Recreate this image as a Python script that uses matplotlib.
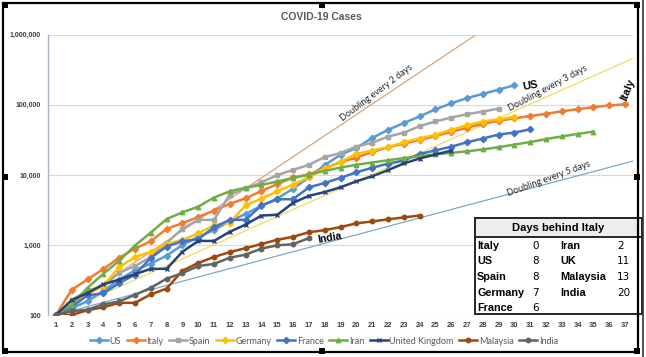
import numpy as np
import matplotlib
matplotlib.use('Agg')
import matplotlib.pyplot as plt
from matplotlib.patches import Rectangle

# cases per day since ~100 cases (day 1 = 100)
us = [100, 124, 158, 221, 319, 435, 541, 704, 994, 1301, 1630, 2183, 2770, 3613, 4596,
      6344, 9197, 13779, 19367, 24192, 33592, 43781, 54856, 68211, 85991, 104686,
      124665, 143025, 164620, 189618]
italy = [100, 229, 322, 453, 655, 888, 1128, 1694, 2036, 2502, 3089, 3858, 4636, 5883,
         7375, 9172, 10149, 12462, 15113, 17660, 21157, 24747, 27980, 31506, 35713,
         41035, 47021, 53578, 59138, 63927, 69176, 74386, 80589, 86498, 92472, 97689,
         101739]
spain = [100, 165, 222, 259, 400, 500, 673, 1073, 1695, 2277, 2277, 5232, 6391, 7798,
         9942, 11748, 13910, 17963, 20410, 25374, 28603, 35136, 39885, 49515, 57786,
         65719, 73235, 80110, 87956]
germany = [100, 159, 196, 262, 482, 670, 799, 1040, 1176, 1457, 1908, 2078, 3675, 4585,
           5795, 7272, 9257, 12327, 15320, 19848, 22213, 24873, 29056, 32986, 37323,
           43938, 50871, 57695, 62095, 66885]
france = [100, 130, 191, 204, 285, 377, 653, 949, 1126, 1209, 1784, 2281, 2281, 3661,
          4469, 4499, 6633, 7652, 9043, 10871, 12612, 14459, 16018, 19856, 22304, 25233,
          29155, 32964, 37575, 40174, 44550]
iran = [100, 139, 245, 388, 593, 978, 1501, 2336, 2922, 3513, 4747, 5823, 6566, 7161,
        8042, 9000, 10075, 11364, 12729, 13938, 14991, 16169, 17361, 18407, 19644,
        20610, 21638, 23049, 24811, 27017, 29406, 32332, 35408, 38309, 41495]
uk = [100, 163, 206, 273, 321, 382, 456, 456, 798, 1140, 1140, 1543, 1950, 2626, 2689,
      3983, 5018, 5683, 6650, 8077, 9529, 11658, 14543, 17089, 19522, 22141]
malaysia = [100, 100, 117, 129, 149, 149, 197, 238, 428, 553, 673, 790, 900, 1030, 1183,
            1306, 1518, 1624, 1796, 2031, 2161, 2320, 2470, 2626]
india = [100, 113, 119, 142, 156, 194, 244, 330, 396, 499, 536, 657, 727, 887, 987,
         1024, 1251]

series_names = ['US', 'Italy', 'Spain', 'Germany', 'France', 'Iran',
                'United Kingdom', 'Malaysia', 'India']
doubling_days = [2, 3, 5]

# days behind Italy table
table_left_names = ['Italy', 'US', 'Spain', 'Germany', 'France']
table_left_vals = [0, 8, 8, 7, 6]
table_right_names = ['Iran', 'UK', 'Malaysia', 'India']
table_right_vals = [2, 11, 13, 20]

W, H = 646, 357
BOLD_FONT = 'Liberation Sans'
fig = plt.figure(figsize=(W / 100, H / 100), dpi=100)
ax = fig.add_axes([48 / W, 1 - 315 / H, (633 - 48) / W, (315 - 34.7) / H])

styles = [('#5B9BD5', 'D'), ('#ED7D31', 'D'), ('#A5A5A5', 's'), ('#FFC000', 'D'),
          ('#4472C4', 'D'), ('#70AD47', '^'), ('#264478', 'x'), ('#9E480E', 'o'),
          ('#636363', 'o')]
all_series = [us, italy, spain, germany, france, iran, uk, malaysia, india]

# doubling reference lines
xd = np.linspace(1, 38, 200)
dbl_colors = ['#D9A27A', '#F2DC5D', '#7FA8C8']
for n, c in zip(doubling_days, dbl_colors):
    ax.plot(xd, 100 * 2 ** ((xd - 1) / n), color=c, lw=0.9, zorder=1)

for data, name, (c, m) in zip(all_series, series_names, styles):
    d = np.arange(1, len(data) + 1)
    ax.plot(d, data, color=c, lw=1.8, marker=m, ms=3.2, mew=1.0, label=name, zorder=3)

ax.set_yscale('log')
ax.set_ylim(100, 1e6)
ax.set_xlim(0.5, 37.5)
ax.set_xticks(range(1, 38))
ax.set_yticks([100, 1000, 10000, 100000, 1000000])
ax.set_yticklabels(['100', '1,000', '10,000', '100,000', '1,000,000'])
ax.minorticks_off()
ax.tick_params(length=0, labelsize=5, colors='#404040', pad=5)
ax.tick_params(axis='x', labelsize=5.5)
for lab in ax.get_xticklabels() + ax.get_yticklabels():
    lab.set_fontweight('bold')
    lab.set_family(BOLD_FONT)
ax.grid(axis='y', color='#D9D9D9', lw=0.8)
ax.set_axisbelow(True)
for s in ['top', 'right', 'bottom']:
    ax.spines[s].set_visible(False)
ax.spines['left'].set_color('#A6B4C8')
ax.spines['left'].set_linewidth(1.0)

# line labels
tk = dict(fontsize=6.5, color='#262626', family='Lato', rotation_mode='anchor',
          ha='center', va='center')
ax.text(21.3, 148000, 'Doubling every 2 days', rotation=37, **tk)
ax.text(32.1, 173000, 'Doubling every 3 days', rotation=28, **tk)
ax.text(32.2, 8700, 'Doubling every 5 days', rotation=20, **tk)
ax.text(30.5, 190000, 'US', fontsize=8, fontweight='bold', rotation=10,
        ha='left', va='center', family=BOLD_FONT)
ax.text(37.2, 162000, 'Italy', fontsize=8, fontweight='bold', rotation=68,
        ha='center', va='center', rotation_mode='anchor', family=BOLD_FONT)
ax.text(17.5, 1250, 'India', fontsize=7.5, fontweight='bold', rotation=10,
        ha='left', va='center', family=BOLD_FONT)

fig.text(321 / W, 1 - 17 / H, 'COVID-19 Cases', fontsize=7.5, fontweight='bold',
         color='#595959', ha='center', va='center', family=BOLD_FONT)

fig.legend(loc='center', bbox_to_anchor=(324 / W, 1 - 341 / H), ncol=9, frameon=False,
           prop={'family': 'Lato', 'size': 6.5}, labelcolor='#595959',
           handlelength=2.0, handletextpad=0.2, columnspacing=0.6, borderpad=0)

# table
def fx(x):
    return x / W

def fy(y):
    return 1 - y / H

fig.patches.append(Rectangle((fx(475), fy(314)), fx(642) - fx(475), fy(218) - fy(314),
                             transform=fig.transFigure, facecolor='white',
                             edgecolor='#262626', lw=1.4, zorder=10))
fig.patches.append(Rectangle((fx(475), fy(237)), fx(642) - fx(475), fy(218) - fy(237),
                             transform=fig.transFigure, facecolor='#EDEDED',
                             edgecolor='#262626', lw=1.4, zorder=11))
fig.text(fx(558), fy(228), 'Days behind Italy', fontsize=8, fontweight='bold',
         ha='center', va='center', zorder=12, family=BOLD_FONT)
rows_y = [246, 261.5, 277, 292.5, 308]
for i, (n, v) in enumerate(zip(table_left_names, table_left_vals)):
    fig.text(fx(477), fy(rows_y[i]), n, fontsize=7.8, fontweight='bold',
             ha='left', va='center', zorder=12, family=BOLD_FONT)
    fig.text(fx(532), fy(rows_y[i]), str(v), fontsize=7.5, ha='left', va='center',
             zorder=12)
for i, (n, v) in enumerate(zip(table_right_names, table_right_vals)):
    fig.text(fx(560), fy(rows_y[i]), n, fontsize=7.8, fontweight='bold',
             ha='left', va='center', zorder=12, family=BOLD_FONT)
    fig.text(fx(617), fy(rows_y[i]), str(v), fontsize=7.5, ha='left', va='center',
             zorder=12)

# chart frame and selection handles
fig.patches.append(Rectangle((fx(3), fy(352)), fx(638) - fx(3), fy(3) - fy(352),
                             transform=fig.transFigure, fill=False, edgecolor='black',
                             lw=1.6, zorder=20))
fig.patches.append(Rectangle((fx(643), 0), 0, 1, transform=fig.transFigure, fill=False,
                             edgecolor='#333333', lw=1.2, zorder=20))
for hx, hy in [(5, 5), (322, 5), (637, 5), (5, 177), (637, 177), (5, 351), (322, 351),
               (637, 351)]:
    fig.patches.append(Rectangle((fx(hx - 3), fy(hy + 3)), fx(6), 6 / H,
                                 transform=fig.transFigure, facecolor='black',
                                 edgecolor='none', zorder=21))

fig.savefig('out.png', dpi=100)
